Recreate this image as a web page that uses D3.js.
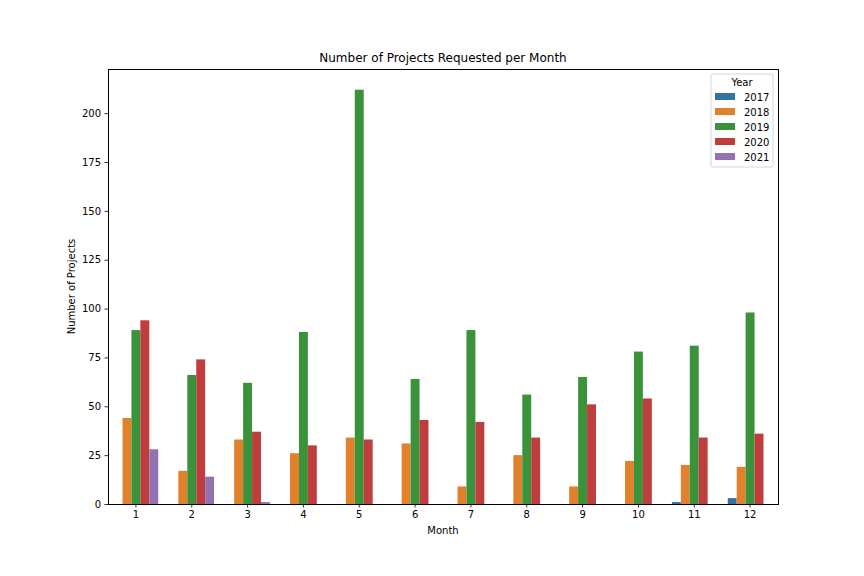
<!DOCTYPE html>
<html>
<head>
<meta charset="utf-8">
<script src="https://cdn.jsdelivr.net/npm/d3@7"></script>
<style>
  body { margin: 0; background: #fff; }
  text { font-family: "DejaVu Sans", sans-serif; fill: #000; }
</style>
</head>
<body>
<div id="chart"></div>
<script>
const months = [1, 2, 3, 4, 5, 6, 7, 8, 9, 10, 11, 12];
const years = ["2017", "2018", "2019", "2020", "2021"];
const colors = ["#3274a1", "#e1812c", "#3a923a", "#c03d3e", "#9372b2"];

// null = no bar for that month
const v2017 = [null, null, null, null, null, null, null, null, null, null, 1, 3];
const v2018 = [44, 17, 33, 26, 34, 31, 9, 25, 9, 22, 20, 19];
const v2019 = [89, 66, 62, 88, 212, 64, 89, 56, 65, 78, 81, 98];
const v2020 = [94, 74, 37, 30, 33, 43, 42, 34, 51, 54, 34, 36];
const v2021 = [28, 14, 1, null, null, null, null, null, null, null, null, null];
const series = [v2017, v2018, v2019, v2020, v2021];
const yTicks = [0, 25, 50, 75, 100, 125, 150, 175, 200];

const width = 864;
const height = 576;
const margin = { top: 69, left: 108, bottom: 72, right: 86 };
const iwidth = width - margin.left - margin.right;
const iheight = height - margin.top - margin.bottom;

const svg = d3.select("#chart").append("svg")
  .attr("width", width)
  .attr("height", height);

const g = svg.append("g")
  .attr("transform", `translate(${margin.left},${margin.top})`);

const x = d3.scaleBand()
  .domain(months)
  .range([0, iwidth])
  .paddingInner(0.2)
  .paddingOuter(0.1);

const xs = d3.scaleBand()
  .domain(years)
  .range([0, x.bandwidth()]);

const y = d3.scaleLinear().domain([0, 212 * 1.05]).range([iheight, 0]);

const data = [];
series.forEach((vals, i) => {
  vals.forEach((v, j) => {
    if (v !== null) data.push({ month: months[j], year: years[i], value: v, color: colors[i] });
  });
});

g.selectAll("rect.bar")
  .data(data)
  .enter()
  .append("rect")
  .attr("class", "bar")
  .attr("x", (d) => x(d.month) + xs(d.year))
  .attr("y", (d) => y(d.value))
  .attr("width", xs.bandwidth())
  .attr("height", (d) => iheight - y(d.value))
  .style("fill", (d) => d.color);

const xAxis = g.append("g")
  .attr("transform", `translate(0, ${iheight})`)
  .call(d3.axisBottom(x).tickSize(3.5).tickPadding(3.5));
const yAxis = g.append("g")
  .call(d3.axisLeft(y).tickValues(yTicks).tickSize(3.5).tickPadding(3.5));

[xAxis, yAxis].forEach((a) => {
  a.select(".domain").remove();
  a.selectAll("text").style("font-size", "10px").style("font-family", "DejaVu Sans");
  a.selectAll("line").attr("stroke", "#000").attr("stroke-width", 0.8);
});

g.append("rect")
  .attr("x", 0.5)
  .attr("y", 0.5)
  .attr("width", iwidth)
  .attr("height", iheight)
  .attr("fill", "none")
  .attr("stroke", "#000")
  .attr("stroke-width", 1)
  .attr("shape-rendering", "crispEdges");

svg.append("text")
  .attr("x", margin.left + iwidth / 2)
  .attr("y", margin.top - 7)
  .attr("text-anchor", "middle")
  .style("font-size", "12px")
  .text("Number of Projects Requested per Month");

svg.append("text")
  .attr("x", margin.left + iwidth / 2)
  .attr("y", margin.top + iheight + 30)
  .attr("text-anchor", "middle")
  .style("font-size", "10px")
  .text("Month");

svg.append("text")
  .attr("transform", `translate(75, ${margin.top + iheight / 2}) rotate(-90)`)
  .attr("text-anchor", "middle")
  .style("font-size", "10px")
  .text("Number of Projects");

// legend
const lg = svg.append("g").attr("transform", `translate(${margin.left + iwidth - 67}, ${margin.top + 5})`);
lg.append("rect")
  .attr("width", 62)
  .attr("height", 93)
  .attr("rx", 2)
  .attr("fill", "#fff")
  .attr("stroke", "#ccc")
  .attr("stroke-width", 0.8);
lg.append("text")
  .attr("x", 31)
  .attr("y", 12)
  .attr("text-anchor", "middle")
  .style("font-size", "10px")
  .text("Year");
years.forEach((yr, i) => {
  lg.append("rect")
    .attr("x", 4)
    .attr("y", 19 + i * 15)
    .attr("width", 20)
    .attr("height", 7)
    .attr("fill", colors[i]);
  lg.append("text")
    .attr("x", 33)
    .attr("y", 27 + i * 15)
    .style("font-size", "10px")
    .text(yr);
});
</script>
</body>
</html>
